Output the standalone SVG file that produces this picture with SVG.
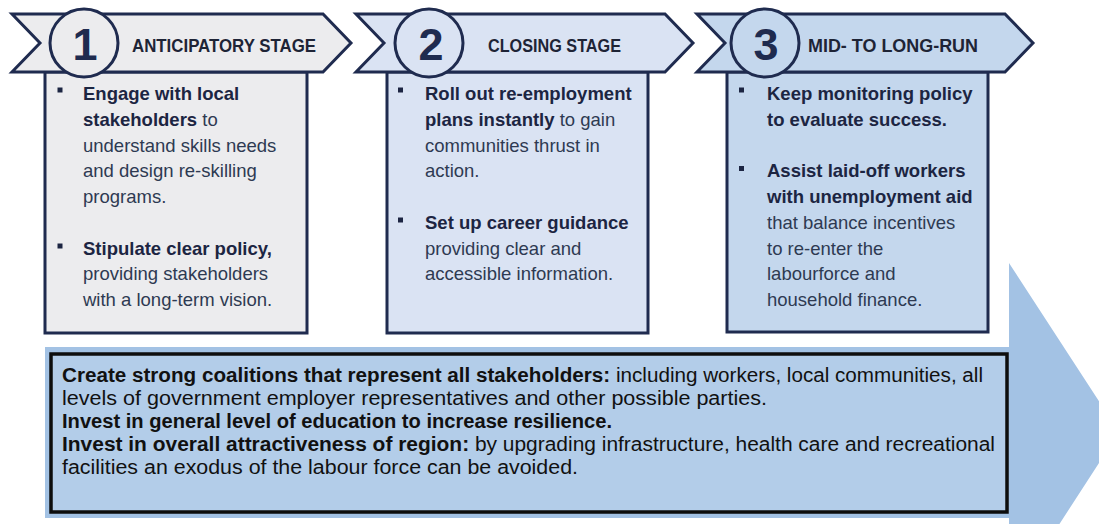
<svg xmlns="http://www.w3.org/2000/svg" width="1099" height="524" viewBox="0 0 1099 524">
<style>
.edge{stroke:#1f2b4f;stroke-width:3;stroke-linejoin:miter}
.hdr{font-family:"Liberation Sans",Arial,sans-serif;font-weight:bold;font-size:17.5px;fill:#1e2436}
.num{font-family:"Liberation Sans",Arial,sans-serif;font-weight:bold;font-size:45px;fill:#1f2b4f;text-anchor:middle}
.bt{font-family:"Liberation Sans",Arial,sans-serif;font-size:18.5px;fill:#2e3a52}
.bt .b{font-weight:bold;fill:#1c2542}
.bul{fill:#1c2542}
.ft{font-family:"Liberation Sans",Arial,sans-serif;font-size:20px;fill:#111}
.ft .b{font-weight:bold}
</style>
<rect width="1099" height="524" fill="#ffffff"/>
<g id="big-arrow">
<polygon points="45,347 1009,347 1009,263 1119,432 1009,602 1009,518 45,518" fill="#a3c2e4"/>
</g>
<g id="summary">
<rect x="51" y="354" width="956" height="158" fill="#b3cde9" stroke="#0d0d0d" stroke-width="3.5"/>
<text class="ft" x="62" y="382" textLength="921" lengthAdjust="spacingAndGlyphs"><tspan class="b">Create strong coalitions that represent all stakeholders:</tspan> including workers, local communities, all</text>
<text class="ft" x="62" y="405" textLength="705" lengthAdjust="spacingAndGlyphs">levels of government employer representatives and other possible parties.</text>
<text class="ft" x="62" y="428" textLength="550" lengthAdjust="spacingAndGlyphs"><tspan class="b">Invest in general level of education to increase resilience.</tspan></text>
<text class="ft" x="62" y="451" textLength="933" lengthAdjust="spacingAndGlyphs"><tspan class="b">Invest in overall attractiveness of region:</tspan> by upgrading infrastructure, health care and recreational</text>
<text class="ft" x="62" y="474" textLength="516" lengthAdjust="spacingAndGlyphs">facilities an exodus of the labour force can be avoided.</text>
</g>
<g id="stage1">
<rect class="edge" x="45" y="72" width="262" height="261" fill="#ececee"/>
<polygon class="edge" points="12,14 323,14 351,43 323,72 12,72 40,43" fill="#ececee"/>
<circle class="edge" cx="84" cy="43" r="34" fill="#ececee"/>
<text class="num" x="85" y="60">1</text>
<text class="hdr" x="132" y="52" textLength="184" lengthAdjust="spacingAndGlyphs">ANTICIPATORY STAGE</text>
<rect class="bul" x="57.5" y="87.5" width="5" height="5"/>
<rect class="bul" x="57.5" y="243.5" width="5" height="5"/>
<text class="bt"><tspan x="83" y="100" class="b">Engage with local</tspan><tspan x="83" y="125.75" class="b">stakeholders</tspan><tspan> to</tspan><tspan x="83" y="151.5">understand skills needs</tspan><tspan x="83" y="177.25">and design re-skilling</tspan><tspan x="83" y="203">programs.</tspan><tspan x="83" y="254.5" class="b">Stipulate clear policy,</tspan><tspan x="83" y="280.25">providing stakeholders</tspan><tspan x="83" y="306">with a long-term vision.</tspan></text>
</g>
<g id="stage2">
<rect class="edge" x="387" y="72" width="261" height="261" fill="#dae3f3"/>
<polygon class="edge" points="356,14 665,14 693,43 665,72 356,72 384,43" fill="#dae3f3"/>
<circle class="edge" cx="429" cy="43" r="34" fill="#dae3f3"/>
<text class="num" x="431" y="60">2</text>
<text class="hdr" x="488" y="52" textLength="133" lengthAdjust="spacingAndGlyphs">CLOSING STAGE</text>
<rect class="bul" x="398" y="87.5" width="5" height="5"/>
<rect class="bul" x="398" y="217.5" width="5" height="5"/>
<text class="bt"><tspan x="425" y="100" class="b">Roll out re-employment</tspan><tspan x="425" y="125.75" class="b">plans instantly</tspan><tspan> to gain</tspan><tspan x="425" y="151.5">communities thrust in</tspan><tspan x="425" y="177.25">action.</tspan><tspan x="425" y="228.75" class="b">Set up career guidance</tspan><tspan x="425" y="254.5">providing clear and</tspan><tspan x="425" y="280.25">accessible information.</tspan></text>
</g>
<g id="stage3">
<rect class="edge" x="727" y="72" width="261" height="260" fill="#c4d7ed"/>
<polygon class="edge" points="697,14 1005,14 1033,43 1005,72 697,72 725,43" fill="#c4d7ed"/>
<circle class="edge" cx="765" cy="43" r="34" fill="#c4d7ed"/>
<text class="num" x="766" y="60">3</text>
<text class="hdr" x="808" y="52" textLength="170" lengthAdjust="spacingAndGlyphs">MID- TO LONG-RUN</text>
<rect class="bul" x="739" y="87.5" width="5" height="5"/>
<rect class="bul" x="739" y="166" width="5" height="5"/>
<text class="bt"><tspan x="767" y="100" class="b">Keep monitoring policy</tspan><tspan x="767" y="125.75" class="b">to evaluate success.</tspan><tspan x="767" y="177.25" class="b">Assist laid-off workers</tspan><tspan x="767" y="203" class="b">with unemployment aid</tspan><tspan x="767" y="228.75">that balance incentives</tspan><tspan x="767" y="254.5">to re-enter the</tspan><tspan x="767" y="280.25">labourforce and</tspan><tspan x="767" y="306">household finance.</tspan></text>
</g>
<g id="connectors"></g>
</svg>
